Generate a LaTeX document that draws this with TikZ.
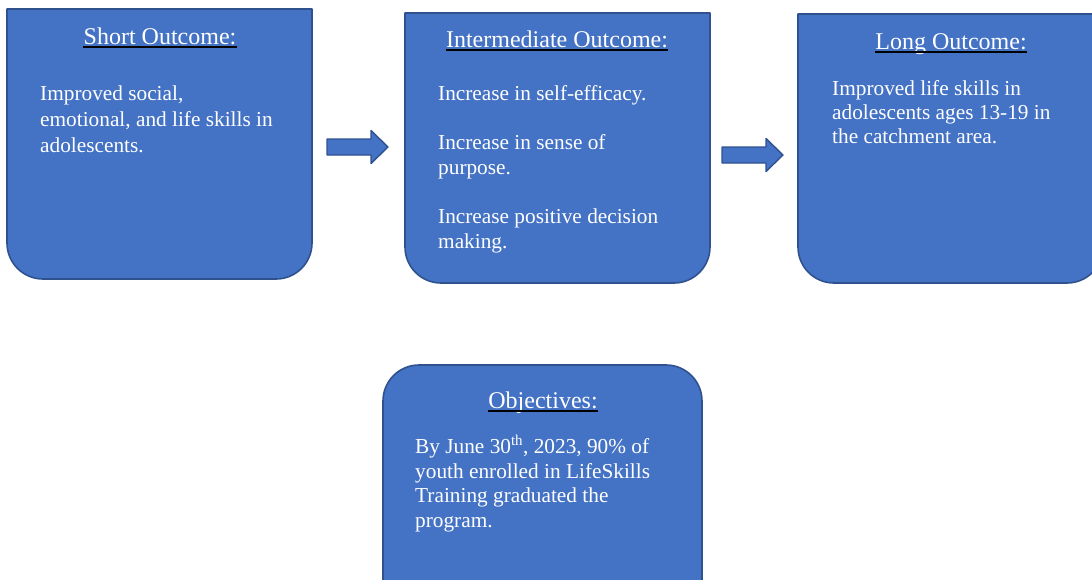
\documentclass[tikz,border=0pt]{standalone}
\usepackage{fontspec}
\setmainfont{Liberation Serif}
\definecolor{boxblue}{HTML}{4472C4}
\definecolor{boxedge}{HTML}{2F528F}

\begin{document}
\begin{tikzpicture}[x=1pt, y=-1pt, line join=round]
    \pgfmathsetmacro{\rad}{36}
    \pgfmathsetmacro{\boxw}{305}

    \tikzset{%
      outcome_box/.style = {fill=boxblue, draw=boxedge, line width=1.6pt},
      block_arrow/.style = {fill=boxblue, draw=boxedge, line width=1.4pt},
      title_text/.style  = {text=white, inner sep=0pt, anchor=base,
                            font=\fontsize{24}{28}\selectfont},
      body_text/.style   = {text=white, inner sep=0pt, anchor=base west, align=left,
                            font=\fontsize{21.3}{#1}\selectfont},
      under_line/.style  = {draw=black, line width=1.8pt}
    }

    \useasboundingbox (0,0) rectangle (1092,579);
    \clip (0,0) rectangle (1092,579);

    % outcome boxes: square top, round bottom
    \foreach \xl/\yt/\yb in {7/9/279, 405/13/283, 798/14/283}{
      \draw[outcome_box] (\xl,\yt) -- ({\xl+\boxw},\yt) -- ({\xl+\boxw},{\yb-\rad})
        arc[start angle=0, end angle=-90, radius=\rad pt] -- ({\xl+\rad},\yb)
        arc[start angle=-90, end angle=-180, radius=\rad pt] -- cycle;
    }

    % objectives box, round on top (its bottom runs off the page)
    \draw[outcome_box] (383,620) -- (383,{365+\rad})
      arc[start angle=180, end angle=90, radius=\rad pt] -- ({702-\rad},365)
      arc[start angle=90, end angle=0, radius=\rad pt] -- (702,620) -- cycle;

    % block arrows between the outcomes
    \foreach \xa/\ya in {327/147, 722/155}{
      \draw[block_arrow] (\xa,{\ya-8}) -- ++(44,0) -- ++(0,-8.5) -- ++(17,16.5)
        -- ++(-17,16.5) -- ++(0,-8.5) -- ++(-44,0) -- cycle;
    }

    \node[title_text] (shorttitle) at (160,44) {Short Outcome:};
    \node[title_text] (midtitle)   at (557,47) {Intermediate Outcome:};
    \node[title_text] (longtitle)  at (951,49) {Long Outcome:};
    \node[title_text] (objtitle)   at (543,408) {Objectives:};

    \foreach \t in {shorttitle, midtitle, longtitle, objtitle}
      \draw[under_line] ([yshift=-3pt]\t.base west) -- ([yshift=-3pt]\t.base east);

    % body texts sit on the baseline of their last line
    \node[body_text=26] (shortbody) at (40,152)
      {Improved social,\\ emotional, and life skills in\\ adolescents.};
    \node[body_text=25] (midbody) at (438,248)
      {Increase in self-efficacy.\\[24pt] Increase in sense of\\ purpose.\\[24pt]
       Increase positive decision\\ making.};
    \node[body_text=24] (longbody) at (832,143)
      {Improved life skills in\\ adolescents ages 13-19 in\\ the catchment area.};
    \node[body_text=24.5] (objbody) at (415,527)
      {By June 30\textsuperscript{th}, 2023, 90\% of\\ youth enrolled in LifeSkills\\
       Training graduated the\\ program.};
\end{tikzpicture}
\end{document}
